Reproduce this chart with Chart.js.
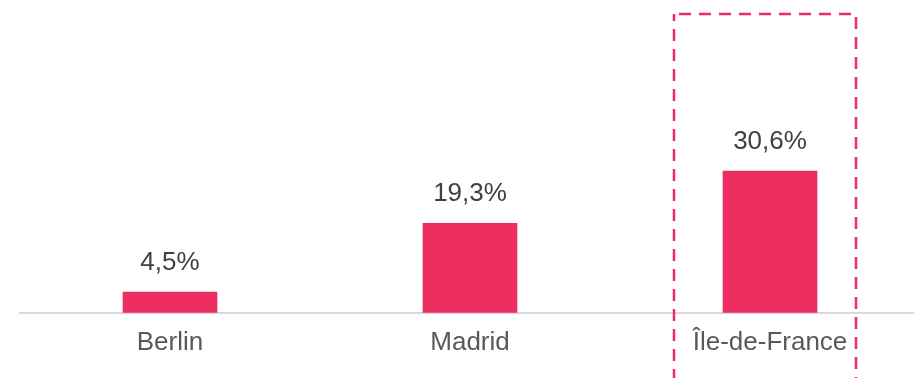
<!DOCTYPE html>
<html>
<head>
<meta charset="utf-8">
<script src="https://cdn.jsdelivr.net/npm/chart.js@4/dist/chart.umd.min.js"></script>
<style>
  html, body { margin: 0; padding: 0; background: #fff; overflow: hidden; }
  #wrap { width: 920px; height: 378px; }
</style>
</head>
<body>
<div id="wrap"><canvas id="chart"></canvas></div>
<script>
const regions = ['Berlin', 'Madrid', 'Île-de-France'];
const shares = [4.5, 19.3, 30.6];
const highlighted = 'Île-de-France';

const pink = '#ec2d5f';
const fontFamily = '"Liberation Sans", Arial, sans-serif';

// "30,6%" style labels
function formatShare(v) {
    return v.toFixed(1).replace('.', ',') + '%';
}

// value labels above each bar
const valueLabels = {
    id: 'valueLabels',
    afterDatasetsDraw(chart) {
        const ctx = chart.ctx;
        const meta = chart.getDatasetMeta(0);
        ctx.save();
        ctx.font = '26px ' + fontFamily;
        ctx.fillStyle = '#404040';
        ctx.textAlign = 'center';
        ctx.textBaseline = 'alphabetic';
        meta.data.forEach((bar, i) => {
            ctx.fillText(formatShare(shares[i]), bar.x, bar.y - 22);
        });
        ctx.restore();
    }
};

// dashed frame around the highlighted region
const highlightBox = {
    id: 'highlightBox',
    afterDraw(chart) {
        const ctx = chart.ctx;
        const x = chart.scales.x.getPixelForValue(regions.indexOf(highlighted));
        const left = x - 96;
        const right = x + 86;
        const top = chart.chartArea.top - 21;
        const bottom = chart.height + 10;
        ctx.save();
        ctx.strokeStyle = pink;
        ctx.lineWidth = 2.5;
        ctx.setLineDash([12, 8]);
        ctx.lineDashOffset = -5;
        ctx.strokeRect(left, top, right - left, bottom - top);
        ctx.restore();
    }
};

new Chart(document.getElementById('chart'), {
    type: 'bar',
    data: {
        labels: regions,
        datasets: [{
            data: shares,
            backgroundColor: pink,
            borderWidth: 0,
            barThickness: 94
        }]
    },
    options: {
        responsive: true,
        maintainAspectRatio: false,
        animation: false,
        layout: { padding: { left: 20, right: 0, top: 35, bottom: 6 } },
        plugins: {
            legend: { display: false },
            tooltip: { enabled: false }
        },
        scales: {
            x: {
                grid: { display: false, drawTicks: false },
                border: { display: true, color: '#d9d9d9', width: 2 },
                ticks: {
                    color: '#595959',
                    padding: 14,
                    font: { family: fontFamily, size: 26 }
                }
            },
            y: {
                display: false,
                min: 0,
                max: 60
            }
        }
    },
    plugins: [valueLabels, highlightBox]
});
</script>
</body>
</html>
